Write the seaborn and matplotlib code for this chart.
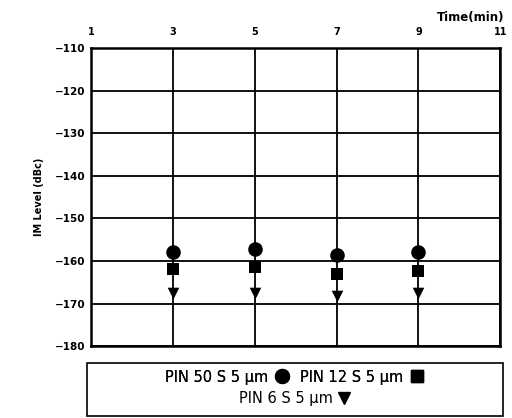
import numpy as np
import pandas as pd
import matplotlib.pyplot as plt
import seaborn as sns
from matplotlib.lines import Line2D
from matplotlib.patches import Rectangle

# values
time_min = [3, 5, 7, 9]
pin50 = [-157.8, -157.3, -158.7, -158.0]
pin12 = [-162.0, -161.5, -163.0, -162.3]
pin6 = [-167.5, -167.5, -168.3, -167.5]
series_names = ['PIN 50 S 5 μm', 'PIN 12 S 5 μm', 'PIN 6 S 5 μm']
x_ticks = [1, 3, 5, 7, 9, 11]
y_ticks = [-110, -120, -130, -140, -150, -160, -170, -180]

df = pd.DataFrame({
    'time': time_min * 3,
    'level': pin50 + pin12 + pin6,
    'device': np.repeat(series_names, len(time_min)),
})

sns.set_style('white')
plt.rcParams['font.family'] = ['DejaVu Sans']
plt.rcParams['text.color'] = 'black'
plt.rcParams['axes.labelcolor'] = 'black'
plt.rcParams['xtick.color'] = 'black'
plt.rcParams['ytick.color'] = 'black'

fig = plt.figure(figsize=(5.12, 4.18), dpi=100)
ax = fig.add_axes([0.178, 0.172, 0.799, 0.713])

markers = {series_names[0]: 'o', series_names[1]: 's', series_names[2]: 'v'}
sizes = {series_names[0]: 110, series_names[1]: 85, series_names[2]: 70}
for name in series_names:
    sub = df[df['device'] == name]
    sns.scatterplot(data=sub, x='time', y='level', marker=markers[name],
                    s=sizes[name], color='black', edgecolor='black',
                    linewidth=0, ax=ax, zorder=5, legend=False)

ax.set_xlim(1, 11)
ax.set_ylim(-180, -110)
ax.set_xticks(x_ticks)
ax.set_yticks(y_ticks)
ax.xaxis.tick_top()
ax.set_xticklabels([str(t) for t in x_ticks], fontsize=7, fontweight='bold')
ax.set_yticklabels(['−' + str(abs(t)) for t in y_ticks], fontsize=7.5, fontweight='bold')
ax.tick_params(axis='y', length=0, pad=4)
ax.tick_params(axis='x', length=0, pad=8)
ax.set_xlabel('')
ax.set_ylabel('IM Level (dBc)', fontsize=7, fontweight='bold', labelpad=8)
ax.grid(True, color='black', linewidth=1.3)
ax.set_axisbelow(True)
for sp in ax.spines.values():
    sp.set_color('black')
    sp.set_linewidth(1.8)

fig.text(0.985, 0.958, 'Time(min)', ha='right', va='center', fontsize=8.5, fontweight='bold')

# legend box below the plot
fig.patches.append(Rectangle((0.170, 0.004), 0.812, 0.128, transform=fig.transFigure,
                             fill=False, edgecolor='black', linewidth=1.2))

def handle(name):
    return Line2D([], [], linestyle='none', marker=markers[name], color='black',
                  markersize=10 if markers[name] == 'o' else 9)

leg1 = fig.legend([handle(n) for n in series_names[:2]], series_names[:2],
                  loc='center', bbox_to_anchor=(0.575, 0.098), ncol=2, frameon=False,
                  markerfirst=False, handlelength=0.9, handletextpad=0.5,
                  columnspacing=0.8, fontsize=10.5)
fig.add_artist(leg1)
fig.legend([handle(series_names[2])], series_names[2:],
           loc='center', bbox_to_anchor=(0.575, 0.046), frameon=False,
           markerfirst=False, handlelength=0.9, handletextpad=0.3, fontsize=10.5)

fig.savefig('out.png', dpi=100)
